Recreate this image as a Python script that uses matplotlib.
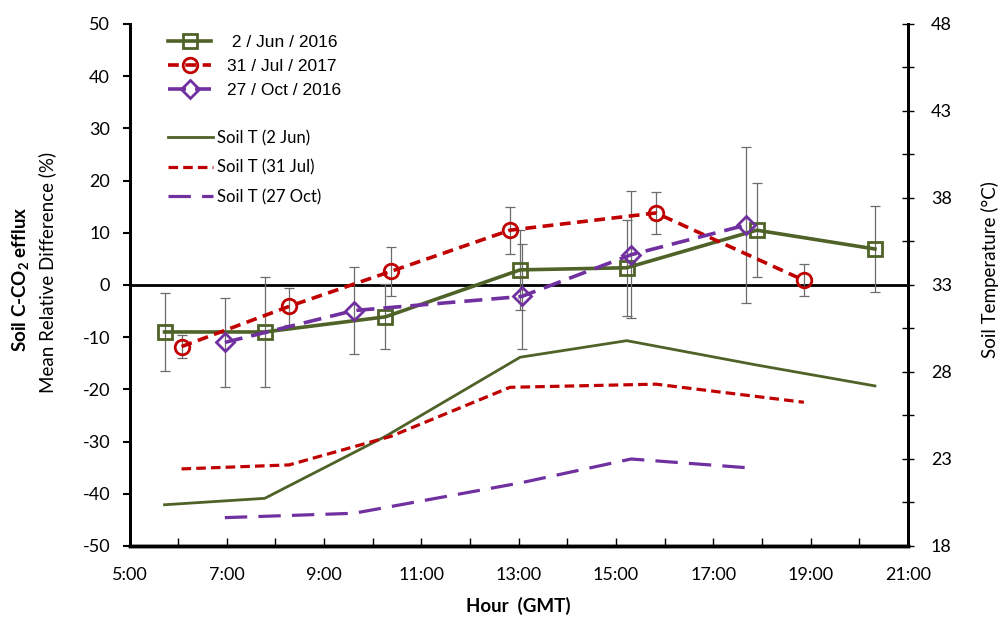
import numpy as np
import matplotlib
matplotlib.use("Agg")
import matplotlib.pyplot as plt

plt.rcParams['font.family'] = ['Lato', 'DejaVu Sans']
plt.rcParams['axes.unicode_minus'] = False

# --- data ---
jun_hours = [5.72, 7.78, 10.26, 13.03, 15.22, 17.89, 20.32]
jun_diff = [-9.0, -9.0, -6.1, 2.9, 3.3, 10.5, 6.9]
jun_err = [7.5, 10.6, 6.2, 7.6, 9.2, 9.0, 8.3]
jun_temp = [20.37, 20.74, 24.3, 28.85, 29.8, 28.4, 27.2]

jul_hours = [6.07, 8.28, 10.37, 12.82, 15.82, 18.86]
jul_diff = [-11.8, -4.1, 2.6, 10.5, 13.8, 0.9]
jul_err = [2.2, 3.6, 4.7, 4.5, 4.0, 3.1]
jul_temp = [22.43, 22.66, 24.3, 27.12, 27.3, 26.26]

oct_hours = [6.96, 9.61, 13.06, 15.31, 17.68]
oct_diff = [-11.0, -4.9, -2.2, 5.8, 11.5]
oct_err = [8.6, 8.3, 10.1, 12.2, 14.9]
oct_temp = [19.63, 19.88, 21.64, 23.0, 22.5]

flux_labels = [" 2 / Jun / 2016", "31 / Jul / 2017", "27 / Oct / 2016"]
temp_labels = ["Soil T (2 Jun)", "Soil T (31 Jul)", "Soil T (27 Oct)"]
hour_ticks = list(range(5, 22))
hour_labels = [f"{h}:00" if h % 2 == 1 else "" for h in hour_ticks]

green = "#4F6228"
red = "#C00000"
purple = "#7030A0"
errc = "#6b6b6b"

fig = plt.figure(figsize=(10, 6.26), dpi=100)
ax = fig.add_axes([0.1295, 0.1278, 0.7785, 0.8339])
ax2 = ax.twinx()

# error bars
for xs, ys, es in [(jun_hours, jun_diff, jun_err), (jul_hours, jul_diff, jul_err),
                   (oct_hours, oct_diff, oct_err)]:
    ax.errorbar(xs, ys, yerr=es, fmt="none", ecolor=errc, elinewidth=0.9,
                capsize=3.5, capthick=0.9, zorder=2)

ax.axhline(0, color="black", lw=2, zorder=1)

l1, = ax.plot(jun_hours, jun_diff, color=green, lw=2.6, marker="s", ms=10,
              mfc="none", mew=2, zorder=3)
l2, = ax.plot(jul_hours, jul_diff, color=red, lw=2.6, ls=(0, (3, 1.8)), marker="o",
              ms=10.5, mfc="none", mew=2, zorder=3)
l3, = ax.plot(oct_hours, oct_diff, color=purple, lw=2.6, ls=(0, (5, 2.5)), marker="D",
              ms=9.5, mfc="none", mew=2, zorder=3)

t1, = ax2.plot(jun_hours, jun_temp, color=green, lw=2)
t2, = ax2.plot(jul_hours, jul_temp, color=red, lw=2.3, ls=(0, (3, 1.6)))
t3, = ax2.plot(oct_hours, oct_temp, color=purple, lw=2.3, ls=(0, (7, 3.5)))

ax.set_xlim(5, 21)
ax.set_ylim(-50, 50)
ax2.set_ylim(18, 48)

ax.set_xticks(hour_ticks)
ax.set_xticklabels(hour_labels)
ax.set_yticks(np.arange(-50, 51, 10))
ax2.set_yticks(np.arange(18, 49, 5))
ax2.set_yticks(np.arange(20.5, 48, 5), minor=True)

ax.tick_params(axis="x", direction="in", length=6, width=1, pad=15, labelsize=13)
ax.tick_params(axis="y", direction="out", length=5, width=1.5, pad=9, labelsize=13)
ax2.tick_params(axis="y", which="both", direction="inout", length=9, width=1,
                pad=12, labelsize=13)

for a in (ax, ax2):
    a.spines["top"].set_visible(False)
    a.spines["left"].set_linewidth(2)
    a.spines["right"].set_linewidth(2)
    a.spines["bottom"].set_linewidth(2.5)

ax.set_xlabel("Hour  (GMT)", fontsize=13.5, fontweight="bold", labelpad=10)
fig.text(0.021, 0.553, "Soil C-CO$_\\mathregular{2}$ efflux", rotation=90,
         fontsize=13.5, fontweight="bold", ha="center", va="center")
fig.text(0.047, 0.565, "Mean Relative Difference (%)", rotation=90,
         fontsize=13.5, ha="center", va="center")
fig.text(0.99, 0.57, "Soil Temperature (°C)", rotation=90,
         fontsize=13.5, ha="center", va="center")

leg1 = fig.legend([l1, l2, l3], flux_labels, loc="upper left",
                  bbox_to_anchor=(0.168, 1 - 35 / 626), frameon=False,
                  prop={"family": "Liberation Sans", "size": 12.5},
                  handlelength=2.5, handletextpad=0.9, labelspacing=0.5,
                  borderpad=0, borderaxespad=0)
leg2 = fig.legend([t1, t2, t3], temp_labels, loc="upper left",
                  bbox_to_anchor=(0.168, 1 - 130 / 626), frameon=False,
                  prop={"size": 12}, handlelength=2.7, handletextpad=0.25,
                  labelspacing=0.8, borderpad=0, borderaxespad=0)

fig.savefig("out.png", dpi=100)
